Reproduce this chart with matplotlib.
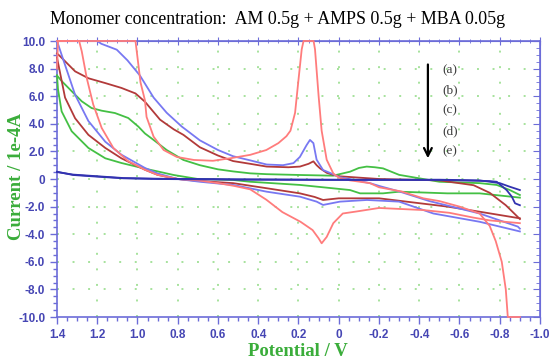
import numpy as np
import matplotlib
matplotlib.use("Agg")
import matplotlib.pyplot as plt

# cyclic voltammograms, potential in V and current in 1e-4 A
# each curve: sweep from +1.4 V towards -0.9 V, then back again

# (a) pink
pink_fwd_v = [1.40, 1.395, 1.01, 1.00, 0.985, 0.963, 0.955, 0.92, 0.87, 0.805, 0.72, 0.625,
              0.54, 0.44, 0.36, 0.30, 0.26, 0.24, 0.217, 0.20, 0.184, 0.175, 0.125, 0.118,
              0.10, 0.085, 0.06, 0.027, 0.0, -0.056, -0.155, -0.2, -0.31, -0.42, -0.5,
              -0.6, -0.7, -0.75, -0.78, -0.81, -0.83, -0.84, -0.90]
pink_fwd_i = [8.0, 10.0, 10.0, 8.8, 7.0, 5.7, 4.5, 3.07, 2.1, 1.6, 1.38, 1.32,
              1.5, 1.75, 2.1, 2.6, 3.1, 3.5, 4.8, 7.2, 9.4, 10.0, 10.0, 9.4,
              6.0, 3.5, 1.4, 0.4, 0.1, -0.1, -0.3, -0.6, -0.9, -1.4, -1.6,
              -2.0, -2.5, -3.4, -4.5, -6.0, -8.0, -10.0, -10.0]
pink_rev_v = [-0.90, -0.75, -0.67, -0.55, -0.42, -0.2, -0.09, -0.02, 0.027, 0.06, 0.085,
              0.10, 0.13, 0.19, 0.28, 0.36, 0.44, 0.52, 0.60, 0.70, 0.80, 0.90, 0.963,
              1.047, 1.12, 1.178, 1.22, 1.252, 1.277, 1.29, 1.40]
pink_rev_i = [-3.2, -3.0, -2.8, -2.45, -2.25, -2.1, -2.35, -2.5, -3.2, -4.2, -4.66,
              -4.3, -3.7, -3.1, -2.4, -1.5, -0.75, -0.5, -0.3, -0.1, 0.0, 0.3, 0.67,
              1.3, 2.25, 3.7, 5.4, 7.3, 9.25, 10.0, 10.0]

# (b) blue
blue_fwd_v = [1.40, 1.20, 1.18, 1.103, 1.05, 0.988, 0.92, 0.855, 0.78, 0.69, 0.60, 0.525,
              0.44, 0.358, 0.277, 0.225, 0.193, 0.16, 0.143, 0.126, 0.11, 0.093, 0.078,
              0.028, 0.0, -0.155, -0.2, -0.3, -0.45, -0.7, -0.89, -0.90]
blue_fwd_i = [10.0, 10.0, 9.8, 9.37, 8.6, 7.5, 5.9, 4.8, 3.8, 2.8, 2.1, 1.65,
              1.35, 1.05, 1.0, 1.15, 1.6, 2.45, 2.83, 2.6, 1.4, 1.0, 0.65,
              0.35, 0.15, -0.3, -0.5, -0.9, -1.6, -2.5, -3.45, -3.6]
blue_rev_v = [-0.90, -0.70, -0.47, -0.30, -0.14, -0.006, 0.078, 0.11, 0.193, 0.358, 0.525,
              0.69, 0.80, 0.90, 0.963, 1.08, 1.16, 1.244, 1.31, 1.377, 1.40]
blue_rev_i = [-3.8, -3.1, -2.5, -1.64, -1.52, -1.64, -1.88, -1.64, -1.28, -0.92, -0.43,
              -0.2, 0.0, 0.4, 0.8, 1.76, 2.7, 4.2, 6.1, 9.0, 10.0]

# (c) dark red
brown_fwd_v = [1.40, 1.385, 1.31, 1.244, 1.16, 1.08, 1.01, 0.963, 0.888, 0.82, 0.772, 0.69,
               0.60, 0.525, 0.44, 0.358, 0.25, 0.193, 0.15, 0.126, 0.11, 0.093, 0.06,
               0.028, 0.0, -0.2, -0.5, -0.67, -0.75, -0.83, -0.90]
brown_fwd_i = [9.1, 8.9, 7.8, 7.3, 6.95, 6.6, 6.2, 5.6, 4.3, 3.6, 3.2, 2.3,
               1.7, 1.3, 1.1, 0.9, 0.85, 0.9, 1.1, 1.28, 1.0, 0.77, 0.45,
               0.3, 0.2, 0.0, -0.1, -0.45, -1.0, -1.9, -2.9]
brown_rev_v = [-0.90, -0.70, -0.54, -0.20, 0.0, 0.078, 0.12, 0.193, 0.358, 0.525, 0.69,
               0.80, 0.90, 0.963, 1.08, 1.16, 1.244, 1.31, 1.36, 1.40]
brown_rev_i = [-2.85, -2.37, -2.0, -1.4, -1.4, -1.52, -1.3, -1.04, -0.67, -0.3, -0.15,
               0.0, 0.3, 0.67, 1.5, 2.25, 3.2, 4.4, 5.9, 8.8]

# (d) green
green_fwd_v = [1.40, 1.377, 1.327, 1.277, 1.228, 1.178, 1.112, 1.046, 0.996, 0.963, 0.92,
               0.855, 0.772, 0.69, 0.60, 0.525, 0.44, 0.358, 0.193, 0.028, -0.056, -0.10,
               -0.139, -0.18, -0.22, -0.30, -0.40, -0.50, -0.70, -0.785, -0.85, -0.90]
green_fwd_i = [7.5, 7.1, 6.36, 5.63, 5.14, 4.95, 4.78, 4.42, 3.8, 3.3, 2.83,
               2.1, 1.38, 1.0, 0.7, 0.55, 0.41, 0.35, 0.29, 0.24, 0.53, 0.8,
               0.9, 0.85, 0.77, 0.3, 0.05, -0.2, -0.3, -0.43, -0.8, -1.16]
green_rev_v = [-0.90, -0.70, -0.54, -0.30, -0.22, -0.106, -0.056, 0.193, 0.44, 0.525, 0.70,
               0.82, 0.90, 0.963, 1.08, 1.16, 1.244, 1.327, 1.377, 1.395, 1.40]
green_rev_i = [-1.35, -1.04, -1.04, -0.92, -1.04, -1.04, -0.8, -0.43, -0.2, -0.07, 0.0,
               0.29, 0.55, 0.75, 1.16, 1.5, 2.25, 3.46, 4.9, 6.5, 7.5]

# (e) navy
navy_fwd_v = [1.40, 1.32, 1.20, 1.07, 0.90, 0.50, 0.0, -0.50, -0.75, -0.785, -0.834,
              -0.86, -0.876, -0.90]
navy_fwd_i = [0.53, 0.29, 0.17, 0.05, 0.0, -0.05, -0.07, -0.07, -0.15, -0.2, -0.8,
              -1.28, -1.76, -1.9]
navy_rev_v = [-0.90, -0.85, -0.80, -0.70, -0.50, 0.0, 0.50, 0.90, 1.07, 1.20, 1.32, 1.40]
navy_rev_i = [-0.8, -0.56, -0.3, -0.1, -0.05, -0.05, -0.02, 0.02, 0.07, 0.2, 0.32, 0.5]

curve_labels = ["(a)", "(b)", "(c)", "(d)", "(e)"]

serif = "Liberation Serif"
sans = "Liberation Sans"
axis_blue = "#6c6cd8"
tick_blue = "#4646b4"
label_green = "#3aad3a"

fig = plt.figure(figsize=(5.52, 3.6), dpi=100)
ax = fig.add_axes([57 / 552, 43 / 360, 483 / 552, 276 / 360])

curves = [
    (green_fwd_v, green_fwd_i, green_rev_v, green_rev_i, "#44c044"),
    (brown_fwd_v, brown_fwd_i, brown_rev_v, brown_rev_i, "#b23a3a"),
    (blue_fwd_v, blue_fwd_i, blue_rev_v, blue_rev_i, "#7878f2"),
    (pink_fwd_v, pink_fwd_i, pink_rev_v, pink_rev_i, "#ff7c7c"),
    (navy_fwd_v, navy_fwd_i, navy_rev_v, navy_rev_i, "#3232b0"),
]
for fv, fi, rv, ri, col in curves:
    # the two sweeps are drawn as separate lines (no join at the vertex)
    ax.plot(fv, fi, color=col, lw=1.3, solid_joinstyle="round", clip_on=False, zorder=3)
    ax.plot(rv, ri, color=col, lw=1.3, solid_joinstyle="round", clip_on=False, zorder=3)

ax.set_xlim(1.4, -1.0)
ax.set_ylim(-10, 10)

# dotted grid
for gx in np.arange(1.2, -0.95, -0.2):
    ax.axvline(gx, color="#a6e29c", lw=1.4, ls=(0, (1, 7)), zorder=0)
for gy in np.arange(-8, 9, 2):
    ax.axhline(gy, color="#a6e29c", lw=1.4, ls=(0, (1, 7)), zorder=0)

xt = np.round(np.arange(1.4, -1.01, -0.2), 1)
ax.set_xticks(xt)
ax.set_xticklabels(["0" if abs(v) < 1e-9 else f"{v:.1f}" for v in xt])
ax.set_xticks(np.arange(1.4, -1.01, -0.05), minor=True)
yt = np.arange(-10, 11, 2)
ax.set_yticks(yt)
ax.set_yticklabels(["0" if v == 0 else f"{v:.1f}" for v in yt])
ax.set_yticks(np.arange(-10, 10.1, 0.5), minor=True)

for sp in ax.spines.values():
    sp.set_color(axis_blue)
    sp.set_linewidth(1.2)
ax.tick_params(which="both", colors=axis_blue, width=1.0, direction="out")
ax.tick_params(which="major", length=5)
ax.tick_params(which="minor", length=3)
for lab in ax.get_xticklabels() + ax.get_yticklabels():
    lab.set_fontfamily(sans)
    lab.set_fontweight("bold")
    lab.set_fontsize(8.5)
    lab.set_color(tick_blue)

top = ax.secondary_xaxis("top")
top.set_xticks(xt)
top.set_xticks(np.arange(1.4, -1.01, -0.05), minor=True)
top.tick_params(which="both", direction="inout", colors=axis_blue, labeltop=False)
top.tick_params(which="major", length=6)
top.tick_params(which="minor", length=3)
top.spines["top"].set_color(axis_blue)

right = ax.secondary_yaxis("right")
right.set_yticks(yt)
right.set_yticks(np.arange(-10, 10.1, 0.5), minor=True)
right.tick_params(which="both", direction="in", colors=axis_blue, labelright=False)
right.tick_params(which="major", length=5)
right.tick_params(which="minor", length=3)
right.spines["right"].set_color(axis_blue)

fig.text(17 / 552, 1 - 176 / 360, "Current / 1e-4A", rotation=90, ha="center", va="center",
         family=serif, fontweight="bold", fontsize=13.5, color=label_green)
fig.text(298 / 552, 1 - 352 / 360, "Potential / V", ha="center", va="center",
         family=serif, fontweight="bold", fontsize=13.5, color=label_green)
fig.text(50 / 552, 1 - 19 / 360,
         "Monomer concentration:  AM 0.5g + AMPS 0.5g + MBA 0.05g",
         ha="left", va="center", family=serif, fontsize=12.9, color="black")

# arrow showing curve order
ax.annotate("", xy=(-0.443, 1.3), xytext=(-0.443, 8.5),
            arrowprops=dict(arrowstyle="->", color="black", lw=1.6, mutation_scale=14))
for k, lab in enumerate(curve_labels):
    ax.text(-0.515, 7.9 - 1.47 * k, lab, family=serif, fontsize=9.5, color="#3c3c3c",
            ha="left", va="center")

fig.savefig("out.png", dpi=100)
